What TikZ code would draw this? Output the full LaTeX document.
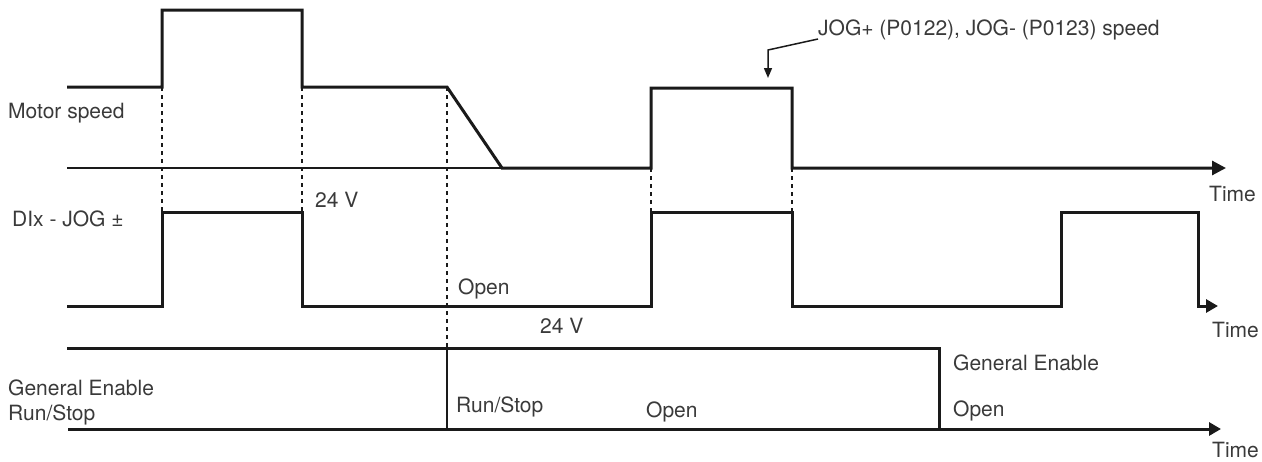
\documentclass[tikz,border=0pt]{standalone}
\usepackage{fontspec}
\setmainfont{TeX Gyre Heros}
\usetikzlibrary{arrows.meta}

\definecolor{linecol}{HTML}{1A1A1A}
\definecolor{textcol}{HTML}{3A3A3A}

\tikzset{
  trace/.style={draw=linecol, line width=3pt},
  thinline/.style={draw=linecol, line width=2pt},
  guide/.style={draw=linecol, line width=2pt, dash pattern=on 4pt off 4pt},
  lbl/.style={text=textcol, inner sep=0pt, anchor=base west,
    font=\fontsize{21}{25}\selectfont},
  bigtip/.style={-{Triangle[length=14pt,width=14pt]}},
  smalltip/.style={-{Triangle[length=12pt,width=13pt]}}
}

\begin{document}
\begin{tikzpicture}[x=1pt, y=-1pt]
        \useasboundingbox (0,0) rectangle (1262,461);

        % Motor speed
        \draw[thinline] (67,168) -- (651,168);
        \draw[trace, bigtip] (67,87) coordinate (M0)
        -- (162,87) coordinate (M1) -- (162,10) -- (302,10)
        -- (302,87) coordinate (M2)
        -- (447,87) coordinate (M3)
        -- (502,168) -- (651,168) coordinate (M4)
        -- (651,88) -- (792,88)
        -- (792,168) coordinate (M5)
        -- (1226,168) coordinate (M6);

        % DIx - JOG
        \draw[trace, smalltip] (67,306) coordinate (D0)
        -- (162,306) -- (162,212) coordinate (D1)
        -- (302,212) coordinate (D2) -- (302,306)
        -- (651,306) -- (651,212) coordinate (D3)
        -- (792,212) coordinate (D4) -- (792,306)
        -- (1061,306) -- (1061,212) -- (1198,212) -- (1198,306)
        -- (1218,306) coordinate (D5);

        % General Enable / Run/Stop
        \draw[trace] (67,348) coordinate (G0)
        -- (447,348) coordinate (G1)
        -- (939,348) -- (939,429) coordinate (G2);
        \draw[trace, smalltip] (68,429) -- (447,429) coordinate (G3)
        -- (1221,429) coordinate (G4);
        \draw[thinline] (G1) -- (G3);

        % vodici cary
        \draw[guide] (M1) -- (D1);
        \draw[guide] (M2) -- (D2);
        \draw[guide] (M3) -- (G1);
        \draw[guide] (651,168) -- (D3);
        \draw[guide] (M5) -- (D4);

        % popisek rychlosti JOG
        \draw[linecol, line width=1.5pt, -{Triangle[length=10pt,width=8pt]}]
        (818,39) coordinate (J0) -- (768,50) -- (768,78) coordinate (J1);
        \node[lbl] (jog) at (818,35) {JOG+ (P0122), JOG- (P0123) speed};

        % popisky signalu
        \node[lbl] (motor) at (8,118) {Motor speed};
        \node[lbl] (dix) at (12,226) {DIx - JOG ±};
        \node[lbl] (ge) at (8,395) {General Enable};
        \node[lbl] (rs) at (8,420) {Run/Stop};

        % stavy
        \node[lbl] (v1) at (315,207) {24 V};
        \node[lbl] (open1) at (458,294) {Open};
        \node[lbl] (v2) at (540,333) {24 V};
        \node[lbl] (rs2) at (456,412) {Run/Stop};
        \node[lbl] (open2) at (646,417) {Open};
        \node[lbl] (ge2) at (953,370) {General Enable};
        \node[lbl] (open3) at (953,416) {Open};

        % osy casu
        \node[lbl] (t1) at (1209,201) {Time};
        \node[lbl] (t2) at (1212,337) {Time};
        \node[lbl] (t3) at (1212,457) {Time};

    \end{tikzpicture}
\end{document}
